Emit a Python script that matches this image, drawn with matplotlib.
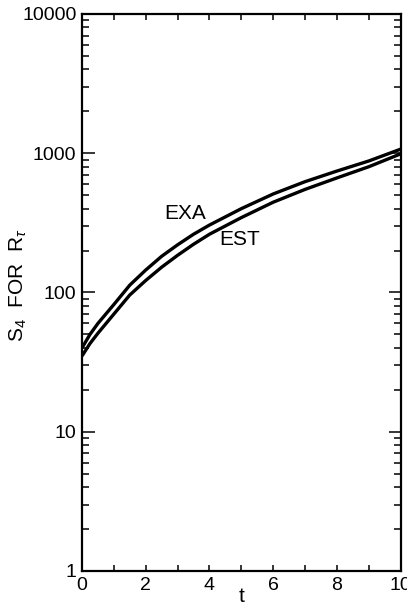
import numpy as np
import matplotlib
matplotlib.use("Agg")
import matplotlib.pyplot as plt
from matplotlib.ticker import FixedLocator, FuncFormatter, NullFormatter, LogLocator

plt.rcParams['font.family'] = ['Liberation Sans', 'DejaVu Sans']
plt.rcParams['mathtext.fontset'] = 'custom'
plt.rcParams['mathtext.rm'] = 'Liberation Sans'
plt.rcParams['mathtext.it'] = 'Liberation Sans:italic'

#%% data
t = [0, 0.25, 0.5, 1, 1.5, 2, 2.5, 3, 3.5, 4, 5, 6, 7, 8, 9, 10]
s4_exa = [40, 50, 60, 82, 113, 145, 182, 220, 262, 305, 400, 510, 625, 745, 880, 1070]
s4_est = [35, 43, 51, 70, 96, 122, 152, 185, 222, 262, 345, 445, 550, 665, 800, 990]

#%% plot
fig = plt.figure(figsize=(4.07, 6.05), dpi=100)
ax = fig.add_axes([0.2015, 0.0562, 0.783, 0.9207])

ax.plot(t, s4_exa, '-', color='black', lw=2.4, solid_capstyle='butt')
ax.plot(t, s4_est, '-', color='black', lw=2.4, solid_capstyle='butt')

ax.set_yscale('log')
ax.set_xlim(0, 10)
ax.set_ylim(1, 10000)

ax.text(3.25, 370, 'EXA', fontsize=15, ha='center', va='center')
ax.text(4.95, 240, 'EST', fontsize=15, ha='center', va='center')

ax.set_xlabel('t', fontsize=15)
ax.xaxis.set_label_coords(0.5, -0.046)
ax.xaxis.label.set_va('center')
ax.set_ylabel(r'S$_4$  FOR  R$_\tau$', fontsize=15)
ax.yaxis.set_label_coords(-0.2, 0.513)
ax.yaxis.label.set_va('center')

ax.xaxis.set_major_locator(FixedLocator([0, 2, 4, 6, 8, 10]))
ax.xaxis.set_minor_locator(FixedLocator([1, 3, 5, 7, 9]))
ax.yaxis.set_major_locator(FixedLocator([1, 10, 100, 1000, 10000]))
ax.yaxis.set_major_formatter(FuncFormatter(lambda v, p: '%d' % v))
ax.yaxis.set_minor_locator(LogLocator(base=10, subs=np.arange(2, 10)))
ax.yaxis.set_minor_formatter(NullFormatter())

ax.tick_params(axis='both', which='both', direction='in', top=True, right=True,
               width=1.1, labelsize=14, pad=4)
ax.tick_params(axis='x', which='both', length=4.5)
ax.tick_params(axis='y', which='major', length=9)
ax.tick_params(axis='y', which='minor', length=5)
for sp in ax.spines.values():
    sp.set_linewidth(1.6)

fig.savefig('out.png', dpi=100)
